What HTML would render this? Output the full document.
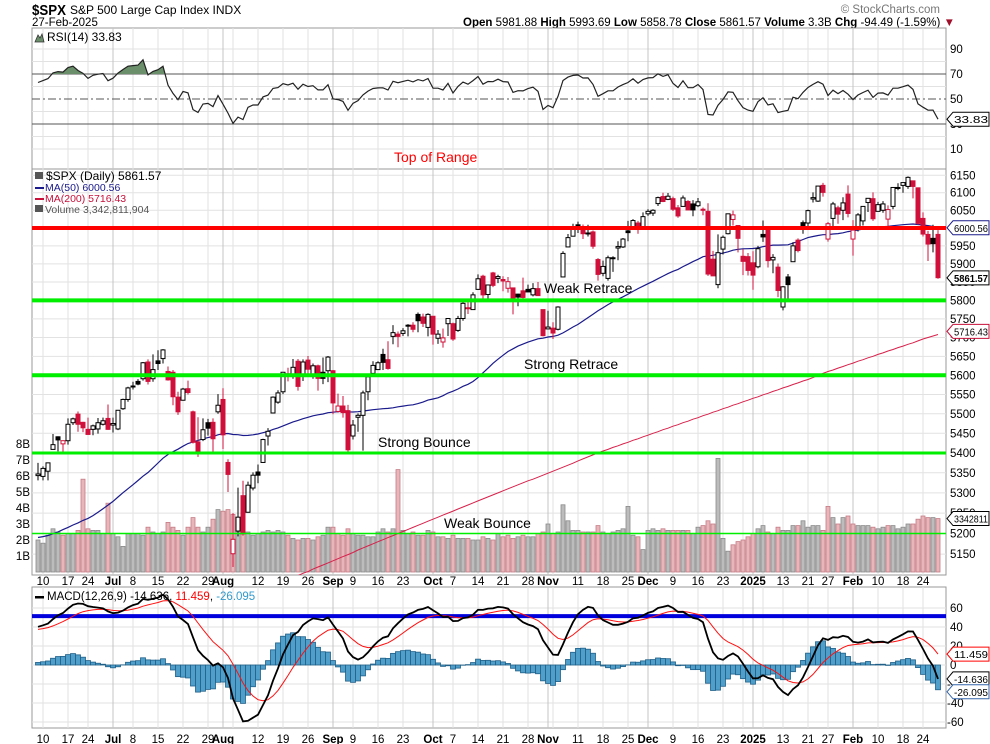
<!DOCTYPE html>
<html><head><meta charset="utf-8"><style>
html,body{margin:0;padding:0;background:#fff;}
svg{display:block;font-family:"Liberation Sans",sans-serif;}
</style></head><body>
<svg id="chart" width="990" height="744" viewBox="0 0 990 744" xmlns="http://www.w3.org/2000/svg">
<g id="hdr">
<text x="32" y="15" font-size="15" font-weight="bold" textLength="34" lengthAdjust="spacingAndGlyphs">$SPX</text>
<text x="70" y="14" font-size="12">S&amp;P 500 Large Cap Index  INDX</text>
<text x="32" y="26" font-size="11.5">27-Feb-2025</text>
<text x="940" y="13" font-size="11.5" fill="#777" text-anchor="end">© StockCharts.com</text>
<text x="463" y="26" font-size="11.5"><tspan font-weight="bold">Open</tspan> 5981.88  <tspan font-weight="bold">High</tspan> 5993.69  <tspan font-weight="bold">Low</tspan> 5858.78  <tspan font-weight="bold">Close</tspan> 5861.57  <tspan font-weight="bold">Volume</tspan> 3.3B  <tspan font-weight="bold">Chg</tspan> -94.49 (-1.59%) <tspan fill="#a0102a">▼</tspan></text>
</g>
<g id="grid"></g>
<g id="vol"></g>
<g id="price"></g>
<g id="rsi"></g>
<g id="macd"></g>
<g id="axes"></g>
</svg>
<script>
const holidays = ["2024-06-19","2024-07-04","2024-09-02","2024-11-28","2024-12-25","2025-01-01","2025-01-09","2025-01-20","2025-02-17"];
const startDate = "2024-06-07", endDate = "2025-02-27";
const tickDates = ["2024-06-10","2024-06-17","2024-06-24","2024-07-01","2024-07-08","2024-07-15","2024-07-22","2024-07-29","2024-08-01","2024-08-12","2024-08-19","2024-08-26","2024-09-03","2024-09-09","2024-09-16","2024-09-23","2024-10-01","2024-10-07","2024-10-14","2024-10-21","2024-10-28","2024-11-01","2024-11-11","2024-11-18","2024-11-25","2024-12-02","2024-12-09","2024-12-16","2024-12-23","2025-01-02","2025-01-13","2025-01-21","2025-01-27","2025-02-03","2025-02-10","2025-02-18","2025-02-24"];
const tickLabels = ["10","17","24","Jul","8","15","22","29","Aug","12","19","26","Sep","9","16","23","Oct","7","14","21","28","Nov","11","18","25","Dec","9","16","23","2025","13","21","27","Feb","10","18","24"];
const extraGridDates = ["2024-08-05","2024-11-04","2024-12-30","2025-01-06"];
const opens = [5343,5341,5354,5409,5441,5423,5431,5477,5499,5478,5460,5460,5461,5473,5488,
5471,5461,5513,5537,5572,5584,5591,5635,5591,5638,5644,5610,5608,5543,5535,5565,5505,5428,5434,5477,5478,5505,
5537,5376,5151,5206,5293,5252,5312,5352,5376,5443,5502,5530,5557,5604,5603,5637,5602,5640,5602,5625,5608,5612,
5612,5506,5520,5508,5443,5491,5496,5557,5605,5615,5655,5641,5703,5709,5711,5733,5733,5762,5755,5727,
5757,5698,5688,5737,5737,5719,5751,5778,5775,5830,5866,5816,5875,5860,5857,5833,5834,5817,5826,5830,5815,5832,5775,
5723,5725,5722,5864,5947,5977,6009,6004,5986,5989,5912,5874,5860,5917,5944,5947,5992,6001,6014,6003,
6040,6042,6069,6089,6081,6083,6057,6061,6075,6068,6063,6053,6047,5913,5843,5941,5984,6024,6007,5921,5920,
5903,5892,5982,5993,5911,5891,5782,5864,5906,5966,6015,6014,6082,6076,6121,5969,6027,6057,6050,6096,
5969,5998,6020,6072,6083,6047,6050,6025,6061,6115,6121,6118,6134,6114,6027,5982,5971,5982];
const highs = [5375,5366,5376,5448,5442,5432,5488,5490,5506,5479,5490,5472,5489,5490,5524,
5490,5509,5539,5570,5583,5590,5635,5642,5655,5666,5669,5623,5614,5557,5567,5586,5508,5491,5488,5487,5488,5551,
5566,5384,5250,5313,5330,5328,5351,5371,5436,5463,5545,5561,5608,5620,5643,5643,5642,5651,5631,5628,5647,5651,
5614,5552,5546,5523,5484,5501,5560,5600,5637,5637,5670,5690,5733,5716,5725,5736,5741,5767,5764,5765,
5757,5720,5724,5752,5740,5758,5797,5796,5822,5871,5870,5843,5878,5870,5866,5864,5835,5818,5862,5843,5847,5850,5775,
5772,5741,5784,5935,5983,6012,6018,6010,6009,5993,5916,5909,5923,5921,5963,5972,6020,6025,6020,6044,
6053,6053,6089,6100,6099,6089,6065,6092,6079,6079,6085,6058,6070,5936,5982,5979,6041,6049,6007,5941,5930,
5935,5950,6021,6000,5927,5901,5839,5872,5960,5971,6021,6052,6101,6119,6128,6017,6074,6063,6087,6121,
6022,6042,6062,6084,6101,6074,6076,6064,6116,6127,6129,6147,6134,6115,6044,5992,6009,5994];
const lows = [5331,5331,5331,5409,5404,5403,5421,5471,5454,5453,5447,5445,5449,5470,5459,
5452,5458,5510,5531,5563,5574,5586,5576,5583,5614,5631,5586,5522,5497,5534,5550,5424,5390,5430,5444,5403,5500,
5410,5302,5119,5193,5195,5252,5306,5324,5376,5419,5502,5526,5551,5584,5591,5560,5585,5603,5591,5560,5577,5582,
5499,5503,5490,5402,5434,5454,5406,5535,5604,5615,5614,5615,5682,5674,5704,5703,5714,5714,5728,5703,
5681,5683,5673,5704,5691,5715,5745,5763,5775,5829,5804,5803,5836,5847,5825,5821,5762,5784,5799,5823,5811,5812,5703,
5723,5696,5719,5864,5947,5976,5986,5969,5976,5942,5854,5866,5854,5878,5910,5944,5963,5996,5984,6003,
6034,6034,6062,6073,6079,6048,6029,6061,6051,6033,6059,6036,5867,5867,5833,5926,5982,6007,5932,5869,5868,
5829,5888,5961,5890,5874,5809,5773,5803,5906,5932,5984,6005,6072,6074,6089,5962,5995,6012,6022,6030,
5923,5990,6007,6045,6020,6047,6043,6003,6053,6107,6100,6111,6084,6009,5976,5908,5932,5859];
const closes = [5347,5361,5375,5421,5433,5431,5473,5487,5473,5464,5447,5469,5477,5482,5460,
5475,5509,5537,5567,5572,5577,5633,5584,5615,5631,5667,5588,5544,5505,5564,5555,5427,5399,5459,5463,5436,5522,
5446,5346,5186,5240,5199,5319,5344,5344,5434,5455,5543,5554,5608,5597,5621,5571,5635,5616,5625,5592,5592,5648,
5528,5520,5503,5408,5471,5496,5554,5596,5626,5633,5634,5618,5713,5703,5718,5732,5722,5745,5738,5762,
5709,5709,5699,5751,5696,5751,5792,5780,5815,5859,5815,5842,5841,5865,5853,5851,5797,5809,5808,5823,5832,5813,5705,
5728,5712,5782,5929,5973,5996,6001,5984,5985,5949,5871,5893,5917,5917,5948,5969,5987,6021,5999,6032,
6047,6050,6086,6075,6090,6053,6034,6085,6051,6051,6074,6050,5872,5867,5931,5974,6040,6037,5971,5907,5882,
5869,5942,5975,5909,5918,5827,5837,5843,5950,5937,5997,6049,6086,6119,6101,6012,6068,6039,6071,6041,
5994,6037,6061,6084,6026,6066,6068,6052,6115,6115,6129,6144,6118,6013,5983,5955,5956,5862];
const volumesB = [2.0,1.8,2.3,2.7,2.5,2.3,2.4,2.4,2.6,5.8,2.7,2.6,2.6,2.4,4.3,
2.4,2.2,1.6,2.4,2.4,2.4,2.3,2.8,2.5,2.4,2.5,3.1,2.8,2.6,2.3,2.8,3.4,2.8,2.5,2.8,3.3,3.9,
3.8,3.9,3.6,2.7,2.6,2.5,2.3,2.4,2.5,2.6,2.5,2.6,2.5,2.3,2.1,2.0,2.1,2.1,2.0,2.2,2.3,2.8,
2.8,2.4,2.3,2.7,2.4,2.3,2.3,2.2,2.2,2.5,2.7,2.5,2.7,6.4,2.6,2.4,2.5,2.3,2.3,2.6,
2.5,2.2,2.2,2.1,2.3,2.1,2.1,2.1,2.0,2.0,2.2,2.1,2.0,2.4,2.2,2.3,2.1,2.2,2.3,2.2,2.2,2.4,2.5,
3.0,2.4,2.5,4.2,3.2,2.6,2.6,2.5,2.5,2.5,2.9,2.5,2.4,2.5,2.6,2.7,4.1,2.3,2.2,1.4,
2.6,2.7,2.6,2.7,2.6,2.6,2.6,2.6,2.6,2.4,2.8,2.9,3.2,3.0,7.1,2.1,1.3,1.7,1.9,2.0,2.2,
2.4,2.7,2.9,2.5,2.4,2.8,2.6,2.6,2.9,2.9,3.2,2.8,2.9,2.9,2.6,4.1,3.4,3.0,3.4,3.5,
3.0,2.9,2.9,2.9,2.8,2.7,2.8,2.9,2.9,2.7,2.8,3.0,3.0,3.3,3.5,3.4,3.4,3.34];
const priorCloses = [5248,5254,5243,5205,5211,5147,5204,5202,5209,5161,5199,5123,5061,5051,5022,5011,4967,5010,5070,5071,5048,5100,5116,5036,5018,5064,5128,5181,5187,5187,5214,5223,5221,5247,5308,5297,5303,5308,5321,5307,5268,5305,5306,5267,5235,5278,5283,5291,5354,5352];
const ma200 = [4832,4837,4842,4848,4853,4858,4863,4868,4873,4878,4884,4889,4894,4899,4904,4909,4914,4919,4925,4930,4935,4940,4945,4950,4955,4960,4966,4971,4976,4981,4986,4991,4996,5001,5007,5012,5017,5022,5027,5032,5037,5042,5048,5053,5058,5063,5068,5073,5078,5083,5089,5094,5099,5104,5108,
5114,5119,5124,5129,5134,5139,5144,5149,5154,5160,5165,5170,5175,5180,5185,5190,5195,5200,5205,5210,5215,5220,5225,5230,5235,5240,5245,5250,5255,5260,5265,5270,5275,5280,5285,5290,5295,5300,5305,5310,5315,5320,5325,5330,5334,5339,5344,5349,5354,5359,5364,5369,5374,5380,5385,5390,5395,5400,
5405,5409,5414,5418,5423,5427,5432,5436,5441,5445,5450,5454,5459,5463,5468,5472,5477,5481,5486,5490,5495,5499,5504,5508,5513,5517,5522,5526,5531,5535,5540,5544,5549,5553,5558,5562,5567,5571,5576,5580,5585,5589,5594,5600,
5605,5610,5614,5619,5623,5628,5632,5637,5641,5646,5650,5655,5659,5664,5668,5673,5677,5682,5686,5691,5696,5700,5704,5708,5712,5716];
const levelValues = [6000,5800,5600,5400,5200];
const levelNames = ["Top of Range","Weak Retrace","Strong Retrace","Strong Bounce","Weak Bounce"];
const priceTicks = [5150,5200,5250,5300,5350,5400,5450,5500,5550,5600,5650,5700,5750,5800,5850,5900,5950,6000,6050,6100,6150];
const volTicks = [1,2,3,4,5,6,7,8];
const rsiTicks = [90,70,50,30,10];
const macdTicks = [60,40,20,0,-20,-40,-60];
const macdLevel = 51.5;

const dates = [];
(function(){
  let d = new Date(startDate+"T12:00:00Z"), e = new Date(endDate+"T12:00:00Z");
  while (d <= e) {
    const s = d.toISOString().slice(0,10), wd = d.getUTCDay();
    if (wd>0 && wd<6 && holidays.indexOf(s)<0) dates.push(s);
    d = new Date(d.getTime()+86400000);
  }
})();
const N = closes.length;
const NS="http://www.w3.org/2000/svg";
function mk(tag, attrs, parent, txt){ const el=document.createElementNS(NS,tag); for(const k in attrs) el.setAttribute(k,attrs[k]); if(txt!==undefined) el.textContent=txt; parent.appendChild(el); return el; }
const G = id=>document.getElementById(id);
const PL=32, PR=946;
const xOf = i => PR - 8 - (N-1-i)*5;
function dateIdx(s){
  let k = dates.indexOf(s);
  if (k < 0) { k = dates.findIndex(x => x >= s); }
  if (k < 0) return -1;
  return k + (N - dates.length);
}
const yP = p => 228 - 2135*Math.log(p/6000);
const yV = v => 572 - v*16;
const yR = r => 99 - (r-50)*1.25;
const yM = m => 665 - m*0.95;
const PT=[28,169], PP=[169,575], PM=[587,728];

const grid=G('grid');
[PT,PP,PM].forEach(p=>{
  const r=mk('rect',{x:PL,y:p[0],width:PR-PL,height:p[1]-p[0],fill:'#fff',stroke:'#999','stroke-width':1},grid);
  
  
});
priceTicks.forEach(t=>{ if(yP(t)>PP[0]+2&&yP(t)<PP[1]) { const l=mk('line',{x1:PL,x2:PR,y1:yP(t),y2:yP(t),stroke:'#e2e2e2'},grid);   }});
[10,20,30,40,60,70,80,90].forEach(t=>{ const l=mk('line',{x1:PL,x2:PR,y1:yR(t),y2:yR(t),stroke:'#e2e2e2'},grid);   });
macdTicks.forEach(t=>{ const l=mk('line',{x1:PL,x2:PR,y1:yM(t),y2:yM(t),stroke:'#e2e2e2'},grid);   });

const axes=G('axes');
const gridSet = tickDates.map((s,k)=>({s, month: isNaN(+tickLabels[k]) || tickLabels[k]==='2025'})).concat(extraGridDates.map(s=>({s,month:false})));
gridSet.forEach(t=>{
  const i=dateIdx(t.s); if(i<0) return;
  [PT,PP,PM].forEach(p=>{ const l=mk('line',{x1:xOf(i),x2:xOf(i),y1:p[0],y2:p[1],stroke:t.month?'#c4c4c4':'#e2e2e2'},grid);   });
});
tickDates.forEach((s,k)=>{
  const i=dateIdx(s); if(i<0) return;
  const lab=tickLabels[k], month = isNaN(+lab) || lab==='2025';
  [581,739].forEach(y=>{
    const tx=mk('text',{x:xOf(i),y:y+4,'font-size':11.5,'text-anchor':'middle','font-weight':month?'bold':'normal'},axes,lab);
    
    
  });
});

const vol=G('vol');
for(let i=0;i<N;i++){
  const down = i>0 ? closes[i]<closes[i-1] : closes[i]<opens[i];
  const r=mk('rect',{x:xOf(i)-2,y:yV(volumesB[i]),width:4,height:572-yV(volumesB[i]),fill:down?'#e8b6ba':'#bcbcbc',stroke:down?'#c57c86':'#8a8a8a','stroke-width':0.8},vol);
  
  
}

const all = priorCloses.concat(closes), off = priorCloses.length;
const price=G('price');
let d50='';
for(let i=0;i<N;i++){ let s=0; for(let k=0;k<50;k++) s+=all[off+i-k]; d50+=(i?'L':'M')+xOf(i)+','+yP(s/50).toFixed(1); }
const ma50Path=mk('path',{d:d50,fill:'none',stroke:'#1a1a8c','stroke-width':1.2},price);


let d200='';
for(let i=0;i<N;i++){ d200+=(i?'L':'M')+xOf(i)+','+yP(ma200[i]).toFixed(1); }
const cp=mk('clipPath',{id:'pclip'},price); mk('rect',{x:PL,y:PP[0],width:PR-PL,height:PP[1]-PP[0]},cp);
const ma200Path=mk('path',{d:d200,fill:'none',stroke:'#d8204a','stroke-width':1,'clip-path':'url(#pclip)'},price);



for(let i=0;i<N;i++){
  const x=xOf(i), o=opens[i], c=closes[i];
  const downDay = i>0 ? c<closes[i-1] : false;
  const col = downDay ? '#d0103a' : '#000';
  const hollow = c>=o;
  const g=mk('g',{},price);
  
  
  mk('line',{x1:x,x2:x,y1:yP(highs[i]),y2:yP(lows[i]),stroke:col,'stroke-width':1},g);
  const top=yP(Math.max(o,c)), bot=yP(Math.min(o,c));
  mk('rect',{x:x-2,y:top,width:4,height:Math.max(1,bot-top),fill:hollow?'#fff':col,stroke:col,'stroke-width':1},g);
}

levelValues.forEach((v,k)=>{
  const isTop=k===0, thin=k===4;
  const l=mk('line',{x1:PL,x2:PR,y1:yP(v),y2:yP(v),stroke:isTop?'#ff0000':'#00ee00','stroke-width':thin?1.5:(k===3?3:4)},price);
  
  
});
const annX=[394,544,524,378,444], annY=[162,293,369,447,528];
levelNames.forEach((n,k)=>{
  const t=mk('text',{x:annX[k],y:annY[k],'font-size':14,fill:k===0?'#ff0000':'#000'},price,n);
  
  
});
const lg=[["$SPX (Daily) 5861.57","#000"],["MA(50) 6000.56","#1a1a8c"],["MA(200) 5716.43","#c8103a"],["Volume 3,342,811,904","#555"]];
lg.forEach((e,k)=>{
  const t=mk('text',{x:k===0?46:45,y:180+k*11,'font-size':k===0?12:10.5,fill:e[1]},price,e[0]);
  
  
  if(k===1||k===2) mk('rect',{x:35,y:176+k*11,width:9,height:2,fill:e[1]},price);
  else mk('rect',{x:35,y:172+k*11,width:8,height:7,fill:'#555'},price);
});

const rsiAll=[]; let ag=0, al=0;
for(let i=1;i<all.length;i++){
  const ch=all[i]-all[i-1], g=Math.max(ch,0), l=Math.max(-ch,0);
  if(i<=14){ ag+=g/14; al+=l/14; } else { ag=(ag*13+g)/14; al=(al*13+l)/14; }
  rsiAll[i]= al===0?100:100-100/(1+ag/al);
}
const rsiG=G('rsi');
[[70,'solid'],[30,'solid'],[50,'dash']].forEach(a=>{
  const l=mk('line',{x1:PL,x2:PR,y1:yR(a[0]),y2:yR(a[0]),stroke:'#555','stroke-width':1,'stroke-dasharray':a[1]==='dash'?'8,3,2,3':'none'},rsiG);
  
  
});
let dr=''; const pts=[];
for(let i=0;i<N;i++){ const r=rsiAll[off+i]; pts.push([xOf(i),yR(r)]); dr+=(i?'L':'M')+xOf(i)+','+yR(r).toFixed(1); }
const cpR=mk('clipPath',{id:'rclip'},rsiG); mk('rect',{x:PL,y:PT[0],width:PR-PL,height:yR(70)-PT[0]},cpR);
const fillD='M'+pts[0][0]+','+yR(70)+pts.map(p=>'L'+p[0]+','+p[1].toFixed(1)).join('')+'L'+pts[N-1][0]+','+yR(70)+'Z';
const rf=mk('path',{d:fillD,fill:'#6b8f6b',stroke:'none','clip-path':'url(#rclip)'},rsiG);


const rl=mk('path',{d:dr,fill:'none',stroke:'#222','stroke-width':1.2},rsiG);


mk('path',{d:'M35,42 L38,35 L40,38 L42,34 L44,42 Z',fill:'#6b8f6b',stroke:'#333','stroke-width':0.8},rsiG);
const rt=mk('text',{x:47,y:41,'font-size':12},rsiG,'RSI(14) 33.83');



const e=(n)=>2/(n+1);
let e12=all[0], e26=all[0], sig=0; const macdAll=[], sigAll=[];
for(let i=0;i<all.length;i++){ e12+= (all[i]-e12)*e(12); e26+=(all[i]-e26)*e(26); const m=e12-e26; sig+= (m-sig)*e(9); macdAll.push(m); sigAll.push(sig); }
const mg=G('macd');
for(let i=0;i<N;i++){
  const h=macdAll[off+i]-sigAll[off+i], y0=yM(0), y1=yM(h);
  const r=mk('rect',{x:xOf(i)-2.5,y:Math.min(y0,y1),width:5,height:Math.abs(y1-y0),fill:'#4f9fca',stroke:'#1f5f88','stroke-width':0.8},mg);
  
  
}
const ml=mk('line',{x1:PL,x2:PR,y1:yM(macdLevel),y2:yM(macdLevel),stroke:'#0000dd','stroke-width':4},mg);


let dm='', ds='';
for(let i=0;i<N;i++){ dm+=(i?'L':'M')+xOf(i)+','+yM(macdAll[off+i]).toFixed(1); ds+=(i?'L':'M')+xOf(i)+','+yM(sigAll[off+i]).toFixed(1); }
const sl=mk('path',{d:ds,fill:'none',stroke:'#ff1010','stroke-width':1},mg);


const mline=mk('path',{d:dm,fill:'none',stroke:'#000','stroke-width':1.8},mg);


mk('rect',{x:35,y:596,width:9,height:2.5,fill:'#000'},mg);
const mt=mk('text',{x:47,y:600,'font-size':11.5},mg);


mk('tspan',{},mt,'MACD(12,26,9) -14.636, ');
mk('tspan',{fill:'#ff0000'},mt,'11.459');
mk('tspan',{},mt,', ');
mk('tspan',{fill:'#3399cc'},mt,'-26.095');

priceTicks.forEach(t=>{ const tx=mk('text',{x:950,y:yP(t)+4,'font-size':11.5},axes,String(t));   });
volTicks.forEach(t=>{ const tx=mk('text',{x:30,y:yV(t)+4,'font-size':11.5,'text-anchor':'end'},axes,t+'B');   });
rsiTicks.forEach(t=>{ const tx=mk('text',{x:950,y:yR(t)+4,'font-size':11.5},axes,String(t));   });
macdTicks.forEach(t=>{ const tx=mk('text',{x:t<0?947:950,y:yM(t)+4,'font-size':11.5},axes,String(t));   });
function tag(y,txt,col,bold,name){
  const g=mk('g',{},axes);
  
  
  mk('path',{d:`M947,${y} L953,${y-7} L989,${y-7} L989,${y+7} L953,${y+7} Z`,fill:'#fff',stroke:col,'stroke-width':1},g);
  mk('text',{x:954,y:y+4,'font-size':10.5,'font-weight':bold?'bold':'normal',fill:'#000',textLength:34,lengthAdjust:'spacingAndGlyphs'},g,txt);
}
tag(yP(6000.56),'6000.56','#1a1a8c',false,'ma50-value-tag');
tag(yP(5861.57),'5861.57','#000',true,'close-value-tag');
tag(yP(5716.43),'5716.43','#c8103a',false,'ma200-value-tag');
tag(yV(3.3428),'3342811','#000',false,'volume-value-tag');
tag(yR(33.83),'33.83','#000',false,'rsi-value-tag');
tag(yM(11.459),'11.459','#ff0000',false,'signal-value-tag');
tag(yM(-14.636),'-14.636','#000',false,'macd-value-tag');
tag(yM(-26.095)+2,'-26.095','#3366aa',false,'histogram-value-tag');
</script>
</body></html>
